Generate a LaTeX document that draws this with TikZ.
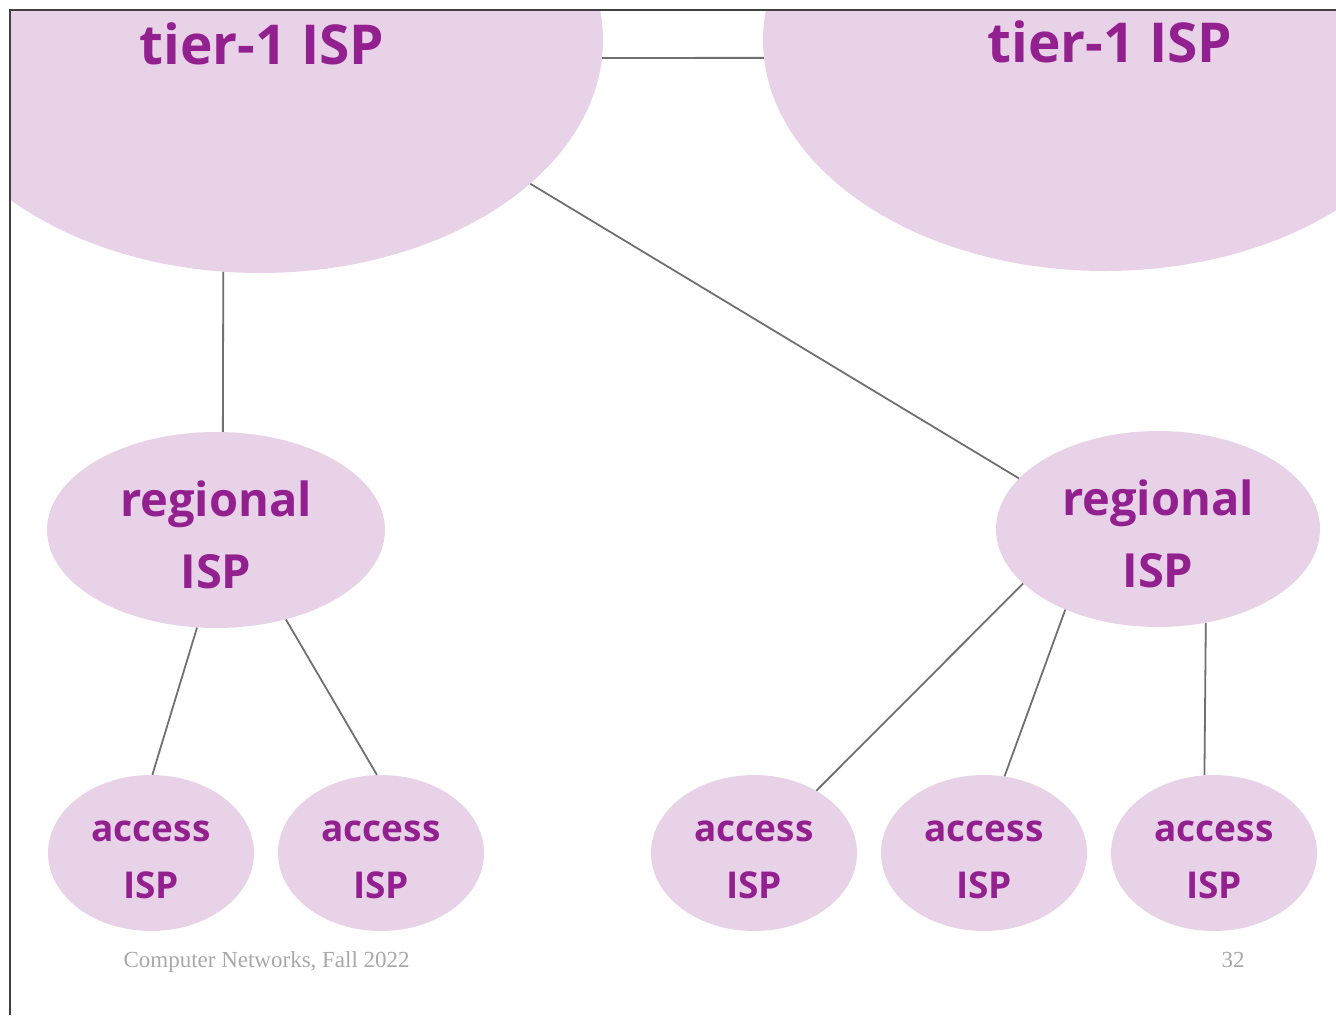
\documentclass[tikz,border=0pt]{standalone}
\usepackage{fontspec}
\setmainfont{Liberation Serif}
\newfontfamily\ispfont{Open Sans}
\usetikzlibrary{shapes.geometric}

\definecolor{ispfill}{HTML}{E8D2E8}
\definecolor{isptext}{HTML}{93208F}
\definecolor{linkgray}{HTML}{707070}
\definecolor{footgray}{HTML}{A8A8A8}

\begin{document}
\begin{tikzpicture}[x=1pt, y=-1pt,
  cloud/.style = {ellipse, fill = ispfill, draw = none, inner sep = 0pt},
  tiertext/.style = {text = isptext, font = \ispfont\bfseries\fontsize{55}{60}\selectfont},
  regtext/.style = {text = isptext, align = center, inner sep = 0pt,
                    font = \ispfont\bfseries\fontsize{47}{72}\selectfont},
  acctext/.style = {text = isptext, align = center, inner sep = 0pt,
                    font = \ispfont\bfseries\fontsize{37}{57}\selectfont},
  link/.style = {draw = linkgray, line width = 1.8pt},
  foot/.style = {text = footgray, font = \fontsize{23}{28}\selectfont}]
\useasboundingbox (0,0) rectangle (1336,1015);

\begin{scope}
\clip (10,10) rectangle (1336,1015);
% tier-1 providers
\node[cloud, minimum width = 686pt, minimum height = 466pt] (T0) at (260,40) {};
\node[cloud, minimum width = 684pt, minimum height = 462pt] (T1) at (1105,40) {};
\node[tiertext, anchor = base] (T0lbl) at (262,64) {tier-1 ISP};
\node[tiertext, anchor = base] (T1lbl) at (1110,62) {tier-1 ISP};

% regional providers
\node[cloud, minimum width = 338pt, minimum height = 196pt] (R0) at (216,530) {};
\node[cloud, minimum width = 324pt, minimum height = 196pt] (R1) at (1158,529) {};
\node[regtext] (R0lbl) at ([yshift=-5pt]R0.center) {regional\\ISP};
\node[regtext] (R1lbl) at ([yshift=-5pt]R1.center) {regional\\ISP};

% access providers
\foreach \name/\x in {A0/151, A1/381, A2/754, A3/984, A4/1214}{
  \node[cloud, minimum width = 206pt, minimum height = 156pt] (\name) at (\x,853) {};
  \node[acctext] (\name lbl) at ([yshift=-7pt]\name.center) {access\\ISP};
}
\end{scope}

% links
\draw[link] (T0.-3.3) -- (T1.183.4);
\draw[link] (T0.-99.3) -- (R0.86.5);
\draw[link] (T0.-28.7) -- (R1.160);
\draw[link] (R0.-101.5) -- (A0.89);
\draw[link] (R0.-52.8) -- (A1.93.7);
\draw[link] (R1.-158.2) -- (A2.45.5);
\draw[link] (R1.-139.3) -- (A3.75);
\draw[link] (R1.-63.7) -- (A4.97);

% slide frame and footer
\draw[line width = 1.2pt, draw = black!75] (10,1015) -- (10,10) -- (1336,10);
\node[foot, anchor = base west] (course) at (120,967) {Computer Networks, Fall 2022};
\node[foot, anchor = base] (page) at (1233,967) {32};
\end{tikzpicture}
\end{document}
